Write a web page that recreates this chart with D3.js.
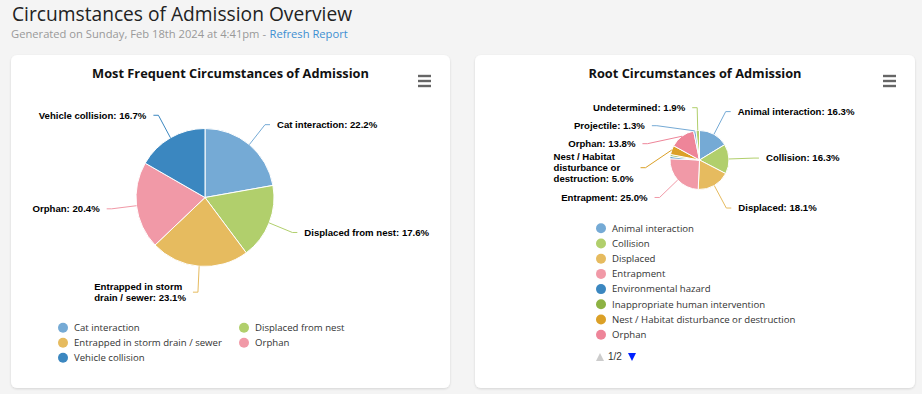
<!DOCTYPE html>
<html>
<head>
<meta charset="utf-8">
<script src="https://cdn.jsdelivr.net/npm/d3@7"></script>
<style>
  body { margin: 0; background: #f4f4f4; font-family: "Open Sans", sans-serif; }
  svg { display: block; }
</style>
</head>
<body>
<svg id="page" width="922" height="394"></svg>
<script>
// データ: 左のグラフ
const freqNames = ["Cat interaction", "Displaced from nest", "Entrapped in storm drain / sewer", "Orphan", "Vehicle collision"];
const freqValues = [22.2, 17.6, 23.1, 20.4, 16.7];

// データ: 右のグラフ
const rootNames = ["Animal interaction", "Collision", "Displaced", "Entrapment", "Environmental hazard",
  "Inappropriate human intervention", "Nest / Habitat disturbance or destruction", "Orphan", "Projectile", "Undetermined"];
const rootValues = [16.3, 16.3, 18.1, 25.0, 1.2, 1.1, 5.0, 13.8, 1.3, 1.9];

// 色
const palette = ["#75aad5", "#b1cf6c", "#e6bb5f", "#f199a7", "#3b87c0", "#8db243", "#dba027", "#ee8599"];

const pageTitle = "Circumstances of Admission Overview";
const subTitle = "Generated on Sunday, Feb 18th 2024 at 4:41pm -";
const linkText = "Refresh Report";

const svg = d3.select("#page");
const defs = svg.append("defs");
const flt = defs.append("filter").attr("id", "shadow").attr("x", "-5%").attr("y", "-5%").attr("width", "110%").attr("height", "115%");
flt.append("feDropShadow").attr("dx", 0).attr("dy", 1).attr("stdDeviation", 1.2)
  .attr("flood-color", "#000").attr("flood-opacity", 0.13);

// ページ見出し
svg.append("text").attr("x", 12).attr("y", 21)
  .style("font-size", "19.2px").style("fill", "#222")
  .text(pageTitle);

const sub = svg.append("text").attr("x", 11).attr("y", 38)
  .style("font-size", "11.2px").style("fill", "#999").text(subTitle);
const subW = sub.node().getComputedTextLength();
svg.append("text").attr("x", 11 + subW + 3.5).attr("y", 38)
  .style("font-size", "11.2px").style("fill", "#3d8fd1").text(linkText);

const labelFont = '"Liberation Sans", Arial, sans-serif';
const lh = 11;

function drawCard(c) {
  svg.append("rect")
    .attr("x", c.x).attr("y", c.y).attr("width", c.w).attr("height", c.h)
    .attr("rx", 6).attr("fill", "#fff").attr("filter", "url(#shadow)");

  svg.append("text")
    .attr("x", c.x + c.w / 2).attr("y", c.y + 23)
    .attr("text-anchor", "middle")
    .style("font-size", "12.8px").style("font-weight", "bold").style("fill", "#111")
    .text(c.title);

  // メニューアイコン
  const menu = svg.append("g").attr("transform", `translate(${c.x + c.w - 32},${c.y + 21})`);
  [0, 5, 10].forEach(dy => {
    menu.append("line").attr("x1", 0).attr("x2", 13).attr("y1", dy).attr("y2", dy)
      .attr("stroke", "#666").attr("stroke-width", 2.4);
  });
}

function measure(str) {
  const t = svg.append("text").style("font-family", labelFont).style("font-size", "9.6px")
    .style("font-weight", "bold").text(str);
  const w = t.node().getComputedTextLength();
  t.remove();
  return w;
}

function wrapText(str, maxW) {
  if (measure(str) <= 130) return [str];
  const words = str.split(" ");
  const lines = [];
  let cur = "";
  words.forEach(w => {
    const test = cur ? cur + " " + w : w;
    if (cur && measure(test) > maxW) { lines.push(cur); cur = w; }
    else cur = test;
  });
  lines.push(cur);
  return lines;
}

// Highcharts風のラベル配置（ラベルの高さを考慮）
function distribute(items, top, bottom) {
  let list = items.slice().sort((a, b) => a.natY - b.natY);
  while (d3.sum(list, d => d.h) > bottom - top) {
    const min = d3.least(list, d => d.value);
    list = list.filter(d => d !== min);
  }
  const place = b => {
    let off = 0;
    const starts = b.items.map(d => { const s = d.natY - d.h / 2 - off; off += d.h; return s; });
    b.size = off;
    b.pos = Math.max(top, Math.min(bottom - b.size, d3.mean(starts)));
  };
  let boxes = list.map(d => ({ items: [d] }));
  boxes.forEach(place);
  let changed = true;
  while (changed) {
    changed = false;
    for (let i = 1; i < boxes.length; i++) {
      const a = boxes[i - 1], b = boxes[i];
      if (a.pos + a.size > b.pos + 0.01) {
        const merged = { items: a.items.concat(b.items) };
        place(merged);
        boxes.splice(i - 1, 2, merged);
        changed = true;
        break;
      }
    }
  }
  boxes.forEach(b => {
    let off = b.pos;
    b.items.forEach(d => { d.y = off + d.h / 2; off += d.h; });
  });
  return list;
}

function drawPie(cfg) {
  const total = d3.sum(cfg.values);
  const items = cfg.names.map((n, i) => ({ name: n, value: cfg.values[i], color: palette[i % palette.length] }));

  const pie = d3.pie().value(d => d.value).sort(null);
  const arcs = pie(items);
  const arc = d3.arc().innerRadius(0).outerRadius(cfg.r);

  const g = svg.append("g").attr("transform", `translate(${cfg.cx},${cfg.cy})`);
  g.selectAll("path.slice").data(arcs).enter().append("path")
    .attr("class", "slice")
    .attr("d", arc)
    .attr("fill", d => d.data.color)
    .attr("stroke", "#fff").attr("stroke-width", 1);

  const R = cfg.r + cfg.distance;
  const baseH = 18;
  arcs.forEach(a => {
    a.mid = (a.startAngle + a.endAngle) / 2;
    a.natY = cfg.cy - R * Math.cos(a.mid);
    a.value = a.data.value;
    a.side = Math.sin(a.mid) >= 0 ? 1 : -1;
    a.pct = a.data.value / total * 100;
    a.lines = wrapText(`${a.data.name}: ${a.pct.toFixed(1)}%`, 100);
    a.h = Math.max(baseH, a.lines.length * lh - 3);
  });

  const shown = arcs.filter(a => a.pct >= cfg.minPct);
  const placed = [];
  [1, -1].forEach(side => {
    placed.push(...distribute(shown.filter(a => a.side === side), cfg.top, cfg.bottom));
  });

  const lg = svg.append("g");
  placed.forEach(a => {
    const nearEdge = a.y <= cfg.top + a.h / 2 + 2 || a.y >= cfg.bottom - a.h / 2 - 2;
    const yForX = nearEdge ? a.natY : a.y;
    const dy = yForX - cfg.cy;
    const xc = cfg.cx + a.side * Math.sqrt(Math.max(0, R * R - dy * dy));
    const ex = cfg.cx + cfg.r * Math.sin(a.mid);
    const ey = cfg.cy - cfg.r * Math.cos(a.mid);

    lg.append("path")
      .attr("d", `M${ex},${ey}L${xc - a.side},${a.y}L${xc + a.side * 4},${a.y}`)
      .attr("fill", "none").attr("stroke", a.data.color).attr("stroke-width", 1);

    const bw = d3.max(a.lines, measure);
    const tx = a.side > 0 ? xc + 11 : xc - 11 - bw;
    const t = lg.append("text")
      .style("font-family", labelFont).style("font-size", "9.6px").style("font-weight", "bold")
      .style("fill", "#000").style("stroke", "#fff").style("stroke-width", 1.5)
      .style("paint-order", "stroke").style("stroke-linejoin", "round");
    a.lines.forEach((ln, i) => {
      t.append("tspan").attr("x", tx)
        .attr("y", a.y - (a.lines.length - 1) * lh / 2 + i * lh)
        .attr("dy", "0.35em").text(ln);
    });
  });
}

function drawLegend(cfg) {
  const n = Math.min(cfg.names.length, cfg.maxItems);
  const rows = d3.range(n).map(i => ({
    name: cfg.names[i], color: palette[i % palette.length],
    col: i % cfg.cols, row: Math.floor(i / cfg.cols)
  }));
  const lg = svg.append("g");
  const item = lg.selectAll("g").data(rows).enter().append("g")
    .attr("transform", d => `translate(${cfg.x + d.col * cfg.colW},${cfg.y + d.row * cfg.rowH})`);
  item.append("circle").attr("r", 5).attr("fill", d => d.color);
  item.append("text").attr("x", 11).attr("dy", "0.35em")
    .style("font-size", "9.6px").style("fill", "#333").text(d => d.name);

  if (cfg.names.length > cfg.maxItems) {
    const pages = Math.ceil(cfg.names.length / cfg.maxItems);
    const ny = cfg.y + n * cfg.rowH + 7;
    lg.append("path").attr("d", `M${cfg.x - 5},${ny + 4}L${cfg.x + 3},${ny + 4}L${cfg.x - 1},${ny - 4}Z`).attr("fill", "#ccc");
    lg.append("text").attr("x", cfg.x + 7).attr("y", ny).attr("dy", "0.35em")
      .style("font-family", labelFont).style("font-size", "10px").style("fill", "#333")
      .text(`1/${pages}`);
    lg.append("path").attr("d", `M${cfg.x + 27},${ny - 4}L${cfg.x + 35},${ny - 4}L${cfg.x + 31},${ny + 4}Z`).attr("fill", "#0022ff");
  }
}

drawCard({ x: 11, y: 55, w: 439, h: 333, title: "Most Frequent Circumstances of Admission" });
drawCard({ x: 475, y: 55, w: 440, h: 333, title: "Root Circumstances of Admission" });

drawPie({ names: freqNames, values: freqValues, cx: 205, cy: 197.5, r: 69, distance: 26, top: 98.7, bottom: 303, minPct: 1.25 });
drawPie({ names: rootNames, values: rootValues, cx: 699.5, cy: 160, r: 29.5, distance: 26, top: 98.7, bottom: 220, minPct: 1.25 });

drawLegend({ names: freqNames, x: 63, y: 327.7, cols: 2, colW: 181, rowH: 15, maxItems: 10 });
drawLegend({ names: rootNames, x: 601, y: 228.3, cols: 1, colW: 0, rowH: 15.2, maxItems: 8 });
</script>
</body>
</html>
